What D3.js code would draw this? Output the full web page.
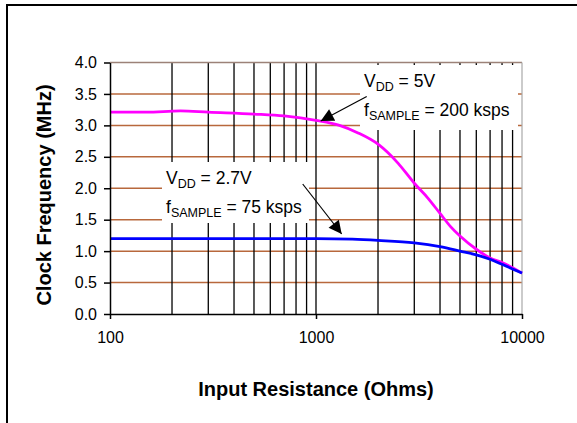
<!DOCTYPE html>
<html>
<head>
<meta charset="utf-8">
<script src="https://cdn.jsdelivr.net/npm/d3@7"></script>
<style>
  body { margin: 0; background: #fff; }
  text { font-family: Arial, "Liberation Sans", sans-serif; fill: #000; }
</style>
</head>
<body>
<div id="graph"></div>
<script>
// data
var resist5V = [100, 150, 220, 300, 500, 700, 1000, 1300, 1600, 2000, 2500, 3000, 3500, 4000, 4500, 5000, 6000, 7000, 8000, 10000];
var freq5V   = [3.21, 3.21, 3.23, 3.21, 3.18, 3.15, 3.08, 3.0, 2.88, 2.7, 2.4, 2.08, 1.84, 1.6, 1.39, 1.24, 1.03, 0.89, 0.82, 0.65];
var resist27V = [100, 500, 1000, 1500, 2000, 3000, 4000, 5000, 6000, 7000, 8000, 10000];
var freq27V   = [1.2, 1.2, 1.2, 1.19, 1.17, 1.13, 1.07, 1.0, 0.94, 0.87, 0.79, 0.65];
var yTicks = [0, 0.5, 1, 1.5, 2, 2.5, 3, 3.5, 4];
var xTicks = [100, 1000, 10000];

var W = 577, H = 423;
var margin = {top: 62.5, right: 55, bottom: 109, left: 110},
    width = W - margin.left - margin.right,
    height = H - margin.top - margin.bottom;

var x = d3.scaleLog().domain([100, 10000]).range([0, width]);
var y = d3.scaleLinear().domain([0, 4]).range([height, 0]);

var svg = d3.select("#graph").append("svg")
    .attr("width", W)
    .attr("height", H);

// outer frame
svg.append("rect")
    .attr("x", 7).attr("y", 5)
    .attr("width", 620).attr("height", 460)
    .attr("fill", "none")
    .attr("stroke", "#000")
    .attr("stroke-width", 2);

var g = svg.append("g")
    .attr("transform", "translate(" + margin.left + "," + margin.top + ")");

// horizontal grid
g.selectAll(".hgrid")
    .data(yTicks.filter(function(d) { return d > 0 && d < 4; }))
    .enter().append("line")
    .attr("x1", 0).attr("x2", width)
    .attr("y1", function(d) { return y(d); })
    .attr("y2", function(d) { return y(d); })
    .attr("stroke", "#b8683c")
    .attr("stroke-width", 1.5);

// vertical grid at every minor decade value
var minor = [];
[100, 1000].forEach(function(dec) {
  for (var k = 2; k <= 10; k++) minor.push(dec * k);
});
minor = minor.filter(function(d) { return d < 10000; });
g.selectAll(".vgrid")
    .data(minor)
    .enter().append("line")
    .attr("x1", function(d) { return x(d); })
    .attr("x2", function(d) { return x(d); })
    .attr("y1", 0).attr("y2", height)
    .attr("stroke", "#000")
    .attr("stroke-width", 1.3);

// plot border top / right
g.append("line")
    .attr("x1", 0).attr("x2", width).attr("y1", 0).attr("y2", 0)
    .attr("stroke", "#9c8278").attr("stroke-width", 1.5);
g.append("line")
    .attr("x1", width).attr("x2", width).attr("y1", 0).attr("y2", height)
    .attr("stroke", "#a8a8a8").attr("stroke-width", 1.2);

// annotation boxes (white, hide grid)
function noteBox(bx, by, bw, bh, vdd, fs) {
  g.append("rect")
      .attr("x", bx).attr("y", by)
      .attr("width", bw).attr("height", bh)
      .attr("fill", "#fff");
  var t1 = g.append("text")
      .attr("x", bx + 4).attr("y", by + 22)
      .style("font-size", "17.5px");
  t1.append("tspan").text("V");
  t1.append("tspan").attr("dy", 4).style("font-size", "12.5px").text("DD");
  t1.append("tspan").attr("dy", -4).text(" = " + vdd);
  var t2 = g.append("text")
      .attr("x", bx + 4).attr("y", by + 51)
      .style("font-size", "17.5px");
  t2.append("tspan").text("f");
  t2.append("tspan").attr("dy", 4).style("font-size", "12.5px").text("SAMPLE");
  t2.append("tspan").attr("dy", -4).text(" = " + fs);
}

noteBox(250, 2.5, 158, 65, "5V", "200 ksps");
noteBox(52, 99.5, 147, 61, "2.7V", "75 ksps");

// data lines
var line = d3.line()
    .x(function(d) { return x(d[0]); })
    .y(function(d) { return y(d[1]); })
    .curve(d3.curveMonotoneX);

g.append("path")
    .datum(d3.zip(resist5V, freq5V))
    .attr("d", line)
    .attr("fill", "none")
    .attr("stroke", "#ff00ff")
    .attr("stroke-width", 2.8);

g.append("path")
    .datum(d3.zip(resist27V, freq27V))
    .attr("d", line)
    .attr("fill", "none")
    .attr("stroke", "#0000ff")
    .attr("stroke-width", 2.8);

// arrows
svg.append("defs").append("marker")
    .attr("id", "head")
    .attr("viewBox", "0 0 10 10")
    .attr("refX", 10).attr("refY", 5)
    .attr("markerUnits", "userSpaceOnUse")
    .attr("markerWidth", 16).attr("markerHeight", 13)
    .attr("orient", "auto")
    .append("path")
    .attr("d", "M0,0L10,5L0,10Z")
    .attr("fill", "#000");

function arrow(x1, y1, x2, y2) {
  g.append("line")
      .attr("x1", x1).attr("y1", y1)
      .attr("x2", x2).attr("y2", y2)
      .attr("stroke", "#000")
      .attr("stroke-width", 1.2)
      .attr("marker-end", "url(#head)");
}
arrow(256.7, 34, 210.7, 58.5);
arrow(192.7, 121.5, 231.7, 171.5);

// axes
var yAxis = g.append("g")
    .call(d3.axisLeft(y).tickValues(yTicks)
      .tickFormat(d3.format(".1f"))
      .tickSizeInner(6).tickSizeOuter(0).tickPadding(7));
var xAxis = g.append("g")
    .attr("transform", "translate(0," + height + ")")
    .call(d3.axisBottom(x).tickValues(xTicks)
      .tickFormat(d3.format("d"))
      .tickSizeInner(5).tickSizeOuter(0).tickPadding(13));
[yAxis, xAxis].forEach(function(a) {
  a.select(".domain").attr("stroke", "#000").attr("stroke-width", 1.5);
  a.selectAll(".tick line").attr("stroke", "#000").attr("stroke-width", 1.5);
  a.selectAll("text")
      .style("font-family", "Arial, 'Liberation Sans', sans-serif")
      .style("font-size", "16px")
      .attr("fill", "#000");
});

// axis titles
svg.append("text")
    .attr("x", margin.left + x(1000))
    .attr("y", 396)
    .attr("text-anchor", "middle")
    .style("font-size", "20px")
    .style("font-weight", "bold")
    .text("Input Resistance (Ohms)");

svg.append("text")
    .attr("transform", "translate(51," + 195 + ") rotate(-90)")
    .attr("text-anchor", "middle")
    .style("font-size", "20px")
    .style("font-weight", "bold")
    .text("Clock Frequency (MHz)");
</script>
</body>
</html>
